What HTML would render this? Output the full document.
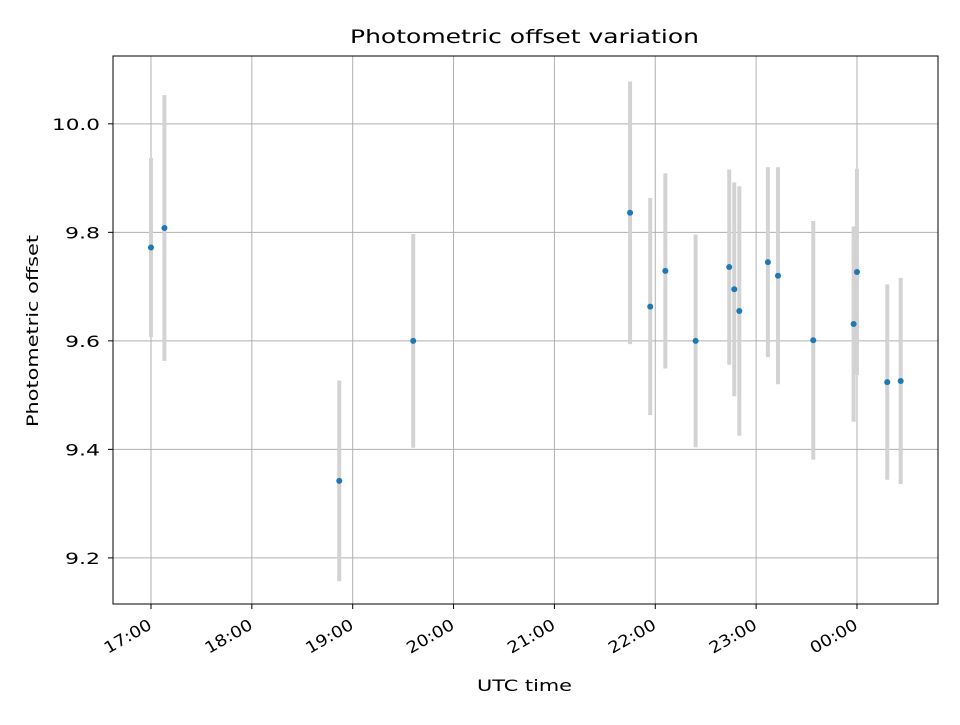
<!DOCTYPE html>
<html><head><meta charset="utf-8"><style>
html,body{margin:0;padding:0;background:#fff;}
svg text{font-family:"DejaVu Sans","Liberation Sans",sans-serif;fill:#000;}
</style></head><body>
<svg id="chart" width="960" height="720" xmlns="http://www.w3.org/2000/svg">
<rect width="960" height="720" fill="#fff"/>
<text x="350" y="43" font-size="19" textLength="349" lengthAdjust="spacingAndGlyphs">Photometric offset variation</text>
<g id="grid"></g>
<g id="bars"></g>
<g id="pts"></g>
<rect x="113" y="56" width="825" height="548" fill="none" stroke="#000" stroke-width="1"/>
<g id="ticks"></g>
<text x="477" y="691" font-size="16" textLength="95" lengthAdjust="spacingAndGlyphs">UTC time</text>
<text transform="translate(38,427) rotate(-90)" font-size="16" textLength="192" lengthAdjust="spacingAndGlyphs">Photometric offset</text>
</svg>
<script>
// minutes since 17:00
const times = [0, 8, 112, 156, 285, 297, 306, 324, 344, 347, 350, 367, 373, 394, 418, 420, 438, 446];
const offsets = [9.772, 9.808, 9.342, 9.600, 9.836, 9.663, 9.729, 9.600, 9.736, 9.695, 9.655, 9.745, 9.720, 9.601, 9.631, 9.727, 9.524, 9.526];
const errors = [0.165, 0.245, 0.185, 0.197, 0.242, 0.200, 0.180, 0.196, 0.180, 0.197, 0.230, 0.175, 0.200, 0.220, 0.180, 0.190, 0.180, 0.190];
const xTickMinutes = [0, 60, 120, 180, 240, 300, 360, 420];
const xTickLabels = ["17:00","18:00","19:00","20:00","21:00","22:00","23:00","00:00"];
const yTicks = [9.2, 9.4, 9.6, 9.8, 10.0];
const yTickLabels = ["9.2","9.4","9.6","9.8","10.0"];

const L=113,R=938,T=56,B=604;
const xMin=-22.6,xMax=468.2,yMin=9.115,yMax=10.125;
const xs=v=>L+(v-xMin)/(xMax-xMin)*(R-L);
const ys=v=>B-(v-yMin)/(yMax-yMin)*(B-T);
const NS="http://www.w3.org/2000/svg";
function mk(tag,attrs,parent){const e=document.createElementNS(NS,tag);for(const k in attrs)e.setAttribute(k,attrs[k]);parent.appendChild(e);return e;}
const grid=document.getElementById('grid'),bars=document.getElementById('bars'),pts=document.getElementById('pts'),ticks=document.getElementById('ticks');
xTickMinutes.forEach((m,i)=>{
  const x=xs(m);
  const g=mk('line',{x1:x,x2:x,y1:T,y2:B,stroke:'#b0b0b0','stroke-width':1},grid);
  
  
  const t=mk('line',{x1:x,x2:x,y1:B,y2:B+5,stroke:'#000'},ticks);
  
  
  const tx=mk('text',{'font-size':16,'text-anchor':'end',textLength:52,lengthAdjust:'spacingAndGlyphs',transform:`translate(${x+2},${B+24}) rotate(-30)`},ticks);
  
  
  tx.textContent=xTickLabels[i];
});
yTicks.forEach((v,i)=>{
  const y=ys(v);
  const g=mk('line',{x1:L,x2:R,y1:y,y2:y,stroke:'#b0b0b0','stroke-width':1},grid);
  
  
  const t=mk('line',{x1:L-5,x2:L,y1:y,y2:y,stroke:'#000'},ticks);
  
  
  const len=yTickLabels[i].length>3?48:35;
  const tx=mk('text',{x:100-len,y:y+6,'font-size':16,textLength:len,lengthAdjust:'spacingAndGlyphs'},ticks);
  
  
  tx.textContent=yTickLabels[i];
});
times.forEach((m,i)=>{
  const x=xs(m);
  const b=mk('line',{x1:x,x2:x,y1:ys(offsets[i]+errors[i]),y2:ys(offsets[i]-errors[i]),stroke:'#d3d3d3','stroke-width':4},bars);
  
  
  const c=mk('circle',{cx:x,cy:ys(offsets[i]),r:3,fill:'#1f77b4'},pts);
  
  
});
</script>
</body></html>
